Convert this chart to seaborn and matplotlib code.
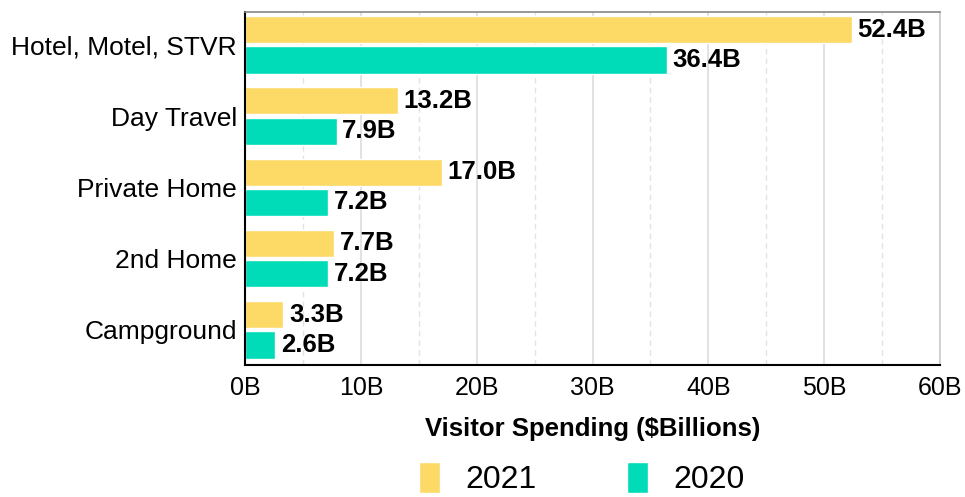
import pandas as pd
import numpy as np
import seaborn as sns
import matplotlib.pyplot as plt
from matplotlib.ticker import MultipleLocator, FuncFormatter

# Data (billions of dollars)
lodging = ["Hotel, Motel, STVR", "Day Travel", "Private Home", "2nd Home", "Campground"]
spend_2021 = [52.4, 13.2, 17.0, 7.7, 3.3]
spend_2020 = [36.4, 7.9, 7.2, 7.2, 2.6]
years = ["2021", "2020"]

df = pd.DataFrame({
    "Lodging": lodging * 2,
    "Spend": spend_2021 + spend_2020,
    "Year": [years[0]] * len(lodging) + [years[1]] * len(lodging),
})

sns.set_theme(style="white")
plt.rcParams["font.family"] = ["Liberation Sans", "DejaVu Sans"]
plt.rcParams["text.color"] = "black"

fig = plt.figure(figsize=(9.65, 4.97), dpi=100)
ax = fig.add_axes([0.254, 0.266, 0.720, 0.710])

sns.barplot(
    data=df, y="Lodging", x="Spend", hue="Year", orient="h",
    palette=["#FDD966", "#00DCB8"], width=0.85, gap=0.1,
    saturation=1, ax=ax,
)

# labels at end of each bar
for cont in ax.containers:
    ax.bar_label(cont, fmt="%.1fB", padding=4, fontsize=18.5, fontweight="bold", color="black")

ax.set_xlim(0, 60)
ax.set_ylim(4.49, -0.46)
ax.xaxis.set_major_locator(MultipleLocator(10))
ax.xaxis.set_minor_locator(MultipleLocator(5))
ax.xaxis.set_major_formatter(FuncFormatter(lambda v, p: f"{v:.0f}B"))
ax.grid(axis="x", which="major", color="#dddddd", linewidth=1.2, linestyle="-")
ax.grid(axis="x", which="minor", color="#e3e3e3", linewidth=1.0, linestyle=(0, (4, 3)))
ax.set_axisbelow(True)

ax.tick_params(axis="both", which="both", length=0, colors="black")
ax.tick_params(axis="y", labelsize=19, pad=6)
ax.tick_params(axis="x", labelsize=18, pad=8)
ax.set_ylabel("")
ax.set_xlabel("Visitor Spending ($Billions)", fontsize=18.5, fontweight="bold",
              labelpad=12, color="black")

for side in ["left", "bottom"]:
    ax.spines[side].set_color("black")
    ax.spines[side].set_linewidth(1.5)
ax.spines["top"].set_color("#888888")
ax.spines["top"].set_linewidth(1.2)
ax.spines["right"].set_color("#cccccc")
ax.spines["right"].set_linewidth(1.2)

handles, labels = ax.get_legend_handles_labels()
ax.legend_.remove()
fig.legend(
    handles, labels, loc="lower center", bbox_to_anchor=(0.603, -0.054),
    ncol=2, frameon=False, fontsize=23, handlelength=0.65, handleheight=1.1,
    handletextpad=0.8, columnspacing=2.85, labelcolor="black",
)

plt.savefig("out.png", dpi=100)
